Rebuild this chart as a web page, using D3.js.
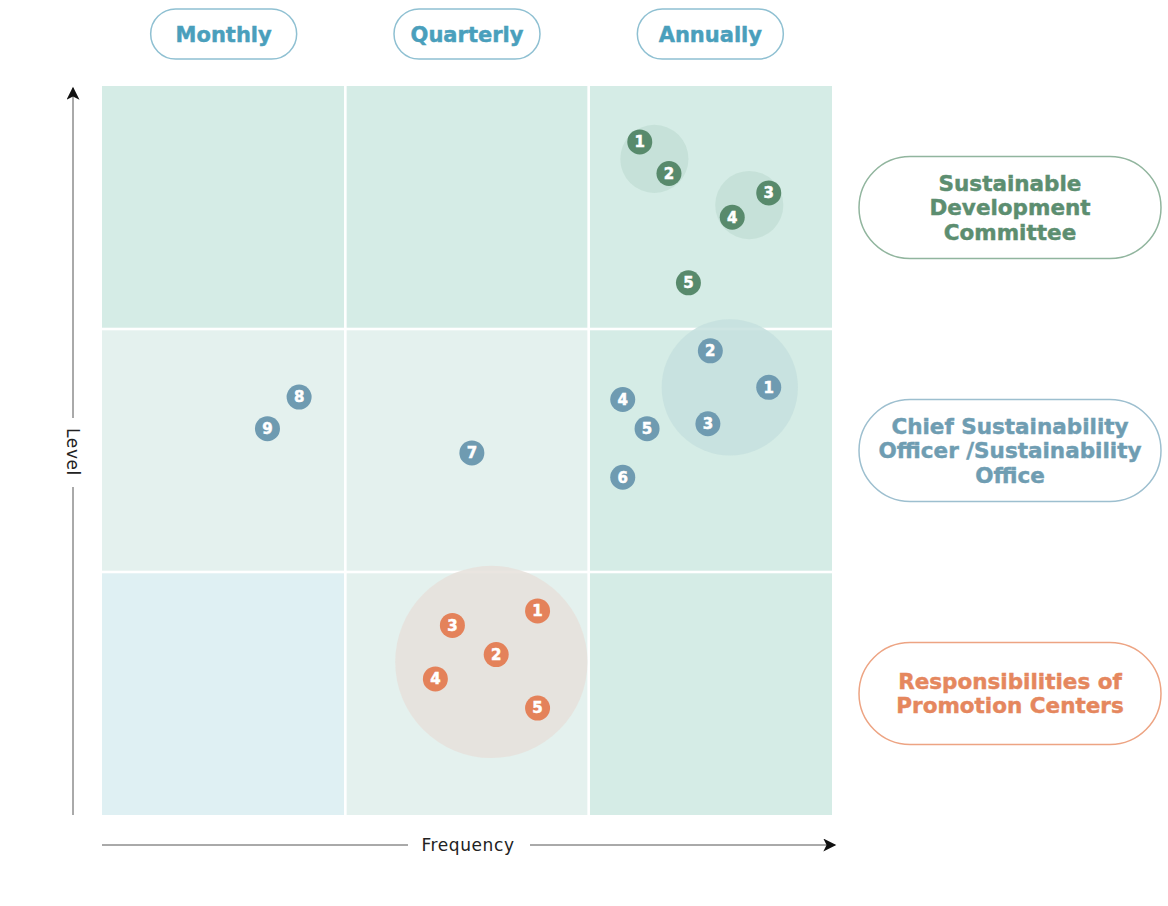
<script src="https://d3js.org/d3.v7.min.js"></script>
<style>
  body { margin: 0; background: #fff; }
</style>
<body>
<script>
  // frequency columns and level rows
  const frequencies = ["Monthly", "Quarterly", "Annually"];
  const levels = [
    ["Sustainable", "Development", "Committee"],
    ["Chief Sustainability", "Officer /Sustainability", "Office"],
    ["Responsibilities of", "Promotion Centers"]
  ];

  // cell shades, row by row from top (level 3) to bottom (level 1)
  const cellShades = [
    ["#d5ece6", "#d5ece6", "#d5ece6"],
    ["#e4f1ee", "#e4f1ee", "#d5ece6"],
    ["#dff0f3", "#e4f1ee", "#d5ece6"]
  ];

  // points: x = frequency (0..3), y = level (0..3)
  const committeePts = [
    {n: 1, x: 2.21, y: 2.77}, {n: 2, x: 2.33, y: 2.64}, {n: 3, x: 2.74, y: 2.56},
    {n: 4, x: 2.59, y: 2.46}, {n: 5, x: 2.41, y: 2.19}
  ];
  const officerPts = [
    {n: 1, x: 2.74, y: 1.76}, {n: 2, x: 2.50, y: 1.91}, {n: 3, x: 2.49, y: 1.61},
    {n: 4, x: 2.14, y: 1.71}, {n: 5, x: 2.24, y: 1.59}, {n: 6, x: 2.14, y: 1.39},
    {n: 7, x: 1.52, y: 1.49}, {n: 8, x: 0.81, y: 1.72}, {n: 9, x: 0.68, y: 1.59}
  ];
  const centerPts = [
    {n: 1, x: 1.79, y: 0.84}, {n: 2, x: 1.62, y: 0.66}, {n: 3, x: 1.44, y: 0.78},
    {n: 4, x: 1.37, y: 0.56}, {n: 5, x: 1.79, y: 0.44}
  ];

  // soft halos behind groups of points (x, y, radius in level units)
  const halos = [
    {x: 2.27, y: 2.70, r: 0.14, group: 0},
    {x: 2.66, y: 2.51, r: 0.14, group: 0},
    {x: 2.58, y: 1.76, r: 0.28, group: 1},
    {x: 1.60, y: 0.63, r: 0.395, group: 2}
  ];

  const groupColors = ["#588a6c", "#6f9bb1", "#e4825a"];
  const haloColors = ["#c3dfd6", "#c5e0de", "#e6e1da"];
  const pillText = ["#5c8e70", "#6f9db2", "#e5875e"];
  const pillStroke = ["#91b59e", "#9dbfcf", "#eda483"];

  const svg = d3.select("body")
    .append("svg")
    .attr("width", 1168)
    .attr("height", 906);

  const x = d3.scaleLinear().domain([0, 3]).range([102, 832]);
  const y = d3.scaleLinear().domain([0, 3]).range([815, 86]);

  // grid cells
  const gap = 1.3;
  cellShades.forEach((row, r) => {
    row.forEach((c, col) => {
      const top = 2 - r;
      svg.append("rect")
        .attr("x", x(col) + (col > 0 ? gap : 0))
        .attr("y", y(top + 1) + (r > 0 ? gap : 0))
        .attr("width", x(col + 1) - x(col) - (col > 0 ? gap : 0) - (col < 2 ? gap : 0))
        .attr("height", y(top) - y(top + 1) - (r > 0 ? gap : 0) - (r < 2 ? gap : 0))
        .attr("fill", c);
    });
  });

  // halos
  svg.selectAll(".halo")
    .data(halos)
    .join("circle")
    .attr("cx", d => x(d.x))
    .attr("cy", d => y(d.y))
    .attr("r", d => x(d.r) - x(0))
    .attr("fill", d => haloColors[d.group])
    .attr("opacity", 0.85);

  // markers
  [committeePts, officerPts, centerPts].forEach((pts, g) => {
    const m = svg.append("g").selectAll("g")
      .data(pts)
      .join("g")
      .attr("transform", d => `translate(${x(d.x)},${y(d.y)})`);
    m.append("circle")
      .attr("r", 12.5)
      .attr("fill", groupColors[g]);
    m.append("text")
      .attr("text-anchor", "middle")
      .attr("dy", "0.36em")
      .attr("fill", "white")
      .attr("stroke", "white")
      .attr("stroke-width", 0.5)
      .attr("font-family", "DejaVu Sans")
      .attr("font-weight", 700)
      .attr("font-size", 15)
      .text(d => d.n);
  });

  // frequency pills on top
  frequencies.forEach((f, i) => {
    const cx = x(i + 0.5);
    svg.append("rect")
      .attr("x", cx - 73).attr("y", 9)
      .attr("width", 146).attr("height", 50)
      .attr("rx", 25)
      .attr("fill", "white")
      .attr("stroke", "#8fc0d2")
      .attr("stroke-width", 1.5);
    svg.append("text")
      .attr("x", cx).attr("y", 34)
      .attr("dy", "0.36em")
      .attr("text-anchor", "middle")
      .attr("fill", "#4a9fbc")
      .attr("stroke", "#4a9fbc")
      .attr("stroke-width", 0.45)
      .attr("font-family", "DejaVu Sans")
      .attr("font-weight", 700)
      .attr("font-size", 21)
      .text(f);
  });

  // level pills on the right
  levels.forEach((lines, i) => {
    const cy = y(2.5 - i);
    svg.append("rect")
      .attr("x", 859).attr("y", cy - 51)
      .attr("width", 302).attr("height", 102)
      .attr("rx", 51)
      .attr("fill", "white")
      .attr("stroke", pillStroke[i])
      .attr("stroke-width", 1.5);
    const lh = 24.5;
    lines.forEach((t, k) => {
      svg.append("text")
        .attr("x", 1010)
        .attr("y", cy + (k - (lines.length - 1) / 2) * lh)
        .attr("dy", "0.36em")
        .attr("text-anchor", "middle")
        .attr("fill", pillText[i])
        .attr("stroke", pillText[i])
        .attr("stroke-width", 0.45)
        .attr("font-family", "DejaVu Sans")
        .attr("font-weight", 700)
        .attr("font-size", 21.5)
        .text(t);
    });
  });

  // axes with arrows
  const defs = svg.append("defs");
  defs.append("marker")
    .attr("id", "arrow")
    .attr("viewBox", "0 0 10 10")
    .attr("refX", 9).attr("refY", 5)
    .attr("markerWidth", 14).attr("markerHeight", 13)
    .attr("markerUnits", "userSpaceOnUse")
    .attr("orient", "auto")
    .append("path")
    .attr("d", "M0,0 L10,5 L0,10 L2.5,5 Z")
    .attr("fill", "#111");

  const axisColor = "#555";
  // x axis
  svg.append("line")
    .attr("x1", 102).attr("x2", 408).attr("y1", 845).attr("y2", 845)
    .attr("stroke", axisColor);
  svg.append("line")
    .attr("x1", 530).attr("x2", 835).attr("y1", 845).attr("y2", 845)
    .attr("stroke", axisColor)
    .attr("marker-end", "url(#arrow)");
  svg.append("text")
    .attr("x", 468).attr("y", 845)
    .attr("dy", "0.36em")
    .attr("text-anchor", "middle")
    .attr("font-family", "DejaVu Sans")
    .attr("font-size", 17)
    .attr("letter-spacing", 0.6)
    .attr("fill", "#222")
    .text("Frequency");

  // y axis
  svg.append("line")
    .attr("x1", 73).attr("x2", 73).attr("y1", 815).attr("y2", 487)
    .attr("stroke", axisColor);
  svg.append("line")
    .attr("x1", 73).attr("x2", 73).attr("y1", 418).attr("y2", 88)
    .attr("stroke", axisColor)
    .attr("marker-end", "url(#arrow)");
  svg.append("text")
    .attr("transform", "translate(73,452) rotate(90)")
    .attr("dy", "0.36em")
    .attr("text-anchor", "middle")
    .attr("font-family", "DejaVu Sans")
    .attr("font-size", 17)
    .attr("letter-spacing", 0.6)
    .attr("fill", "#222")
    .text("Level");
</script>
</body>
